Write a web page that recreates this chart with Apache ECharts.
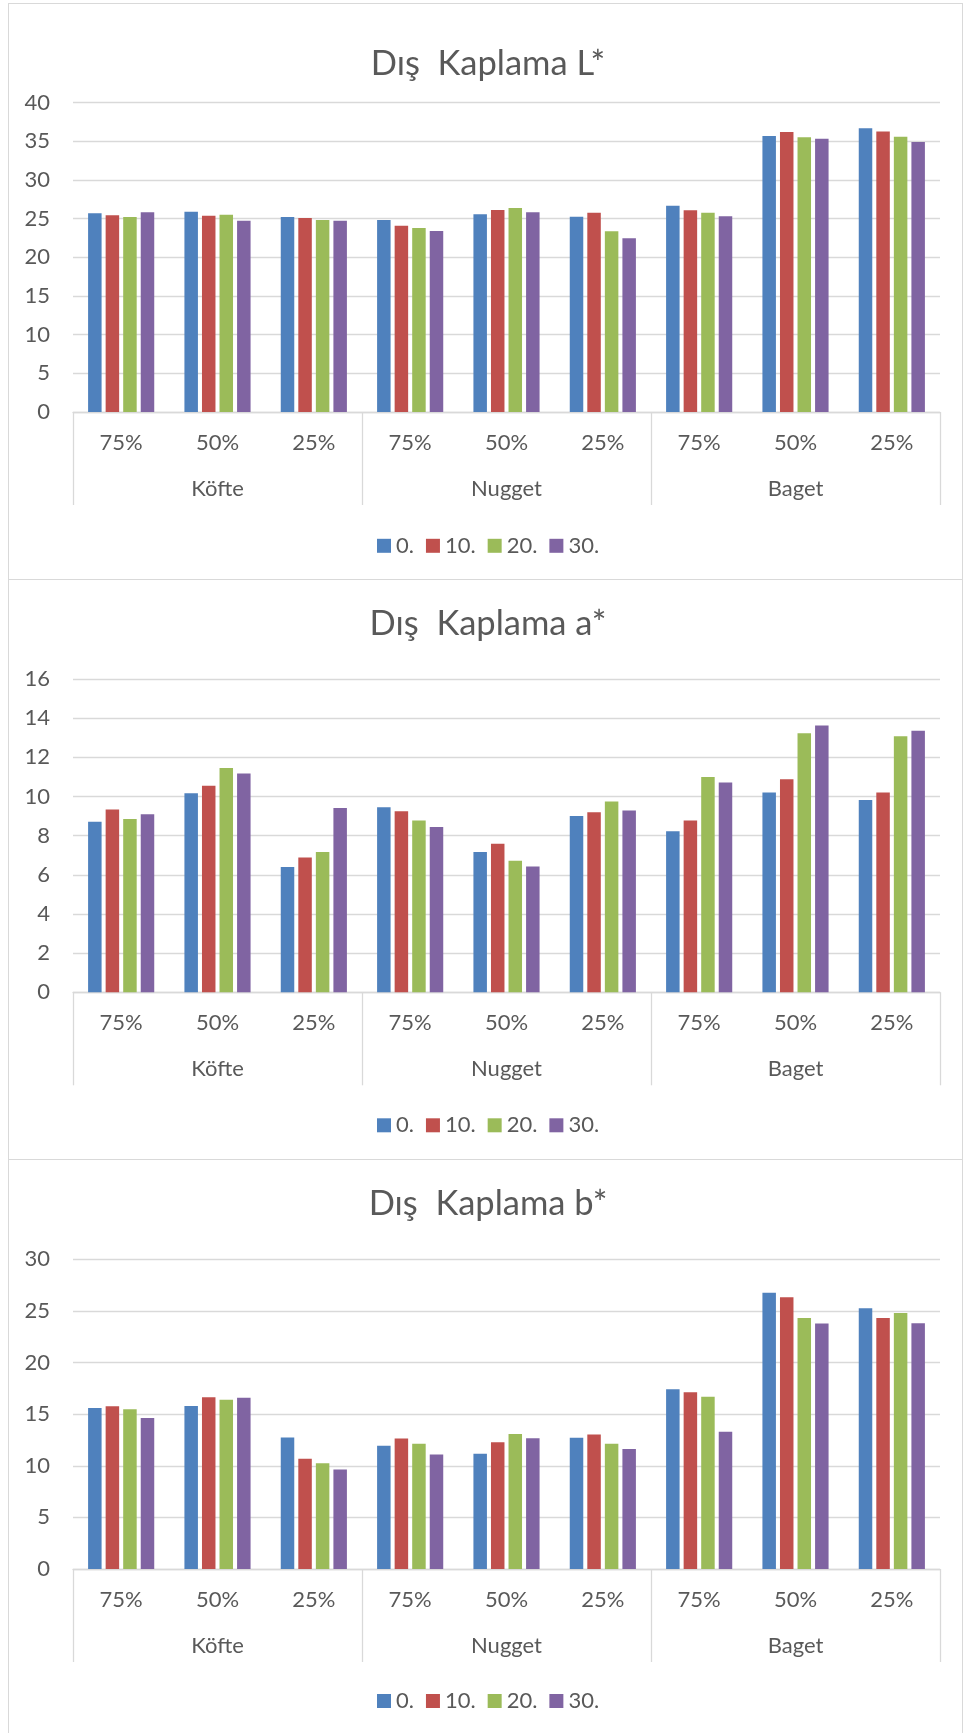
<!DOCTYPE html>
<html>
<head>
<meta charset="utf-8">
<script src="https://cdn.jsdelivr.net/npm/echarts@6/dist/echarts.min.js"></script>
<style>
  html, body { margin: 0; padding: 0; background: #ffffff; }
  #wrap { position: relative; width: 965px; height: 1733px; overflow: hidden; }
  .frame { position: absolute; box-sizing: border-box; border: 1.5px solid #d9d9d9; background: #ffffff; }
  #chart { position: absolute; left: 0; top: 0; width: 965px; height: 1733px; }
</style>
</head>
<body>
<div id="wrap">
  <div class="frame" style="left:8px;top:3px;width:955px;height:578px"></div>
  <div class="frame" style="left:8px;top:579px;width:955px;height:582px"></div>
  <div class="frame" style="left:8px;top:1159px;width:955px;height:600px"></div>
  <div id="chart"></div>
</div>
<script>
// Category labels (inner level) and product groups (outer level)
const categories = ['75%', '50%', '25%', '75%', '50%', '25%', '75%', '50%', '25%'];
const groups = ['Köfte', 'Nugget', 'Baget'];
const seriesNames = ['0.', '10.', '20.', '30.'];
const titles = ['Dış  Kaplama L*', 'Dış  Kaplama a*', 'Dış  Kaplama b*'];

// Dış kaplama L*
const L_0  = [25.69, 25.90, 25.22, 24.83, 25.56, 25.26, 26.68, 35.69, 36.68];
const L_10 = [25.43, 25.39, 25.09, 24.09, 26.12, 25.78, 26.08, 36.21, 36.29];
const L_20 = [25.22, 25.52, 24.83, 23.79, 26.38, 23.36, 25.78, 35.52, 35.60];
const L_30 = [25.82, 24.74, 24.74, 23.41, 25.82, 22.46, 25.30, 35.34, 34.91];

// Dış kaplama a*
const A_0  = [8.71, 10.16, 6.40, 9.45, 7.17, 9.00, 8.22, 10.20, 9.82];
const A_10 = [9.34, 10.55, 6.89, 9.24, 7.59, 9.19, 8.78, 10.88, 10.20];
const A_20 = [8.85, 11.46, 7.17, 8.78, 6.72, 9.75, 11.00, 13.23, 13.07];
const A_30 = [9.09, 11.18, 9.41, 8.44, 6.42, 9.28, 10.71, 13.63, 13.36];

// Dış kaplama b*
const B_0  = [15.60, 15.79, 12.75, 11.95, 11.17, 12.72, 17.40, 26.77, 25.25];
const B_10 = [15.76, 16.63, 10.69, 12.63, 12.27, 13.04, 17.11, 26.32, 24.31];
const B_20 = [15.47, 16.40, 10.24, 12.14, 13.08, 12.14, 16.69, 24.31, 24.80];
const B_30 = [14.63, 16.60, 9.65, 11.08, 12.66, 11.62, 13.30, 23.77, 23.80];

// Value axis ranges
const yMax = [40, 16, 30];
const yStep = [5, 2, 5];

const panelData = [
  [L_0, L_10, L_20, L_30],
  [A_0, A_10, A_20, A_30],
  [B_0, B_10, B_20, B_30]
];

// Styling / layout
const colors = ['#4F81BD', '#C0504D', '#9BBB59', '#8064A2'];
const textColor = '#595959';
const lineColor = '#D9D9D9';
const font = 'Lato';
const layout = [
  { top: 102.7, height: 309.3, titleX: 488, titleY: 64.0, legendY: 541.8 },
  { top: 679.0, height: 313.3, titleX: 488, titleY: 623.8, legendY: 1121.3 },
  { top: 1259.3, height: 309.7, titleX: 488, titleY: 1204.0, legendY: 1697.0 }
];

const grid = [], xAxis = [], yAxis = [], series = [], legend = [], graphic = [];

layout.forEach(function (p, i) {
  grid.push({ left: 73, width: 867, top: p.top, height: p.height, containLabel: false });

  // inner category level
  xAxis.push({
    type: 'category', gridIndex: i, position: 'bottom', data: categories,
    axisLine: { show: true, lineStyle: { color: lineColor, width: 1.3 } },
    axisTick: { show: false },
    axisLabel: { interval: 0, margin: 20, color: textColor, fontFamily: font, fontSize: 22, lineHeight: 22 },
    splitLine: { show: false }
  });
  // outer group level with separators
  xAxis.push({
    type: 'category', gridIndex: i, position: 'bottom', data: groups,
    axisLine: { show: false },
    axisTick: { show: true, length: 93, lineStyle: { color: lineColor, width: 1.3 } },
    axisLabel: { interval: 0, margin: 66, color: textColor, fontFamily: font, fontSize: 22, lineHeight: 22 },
    splitLine: { show: false }
  });

  yAxis.push({
    type: 'value', gridIndex: i, min: 0, max: yMax[i], interval: yStep[i],
    axisLine: { show: false }, axisTick: { show: false },
    axisLabel: { margin: 23, color: textColor, fontFamily: font, fontSize: 22 },
    splitLine: { show: true, lineStyle: { color: lineColor, width: 1.3 } }
  });

  panelData[i].forEach(function (values, s) {
    series.push({
      type: 'bar', name: seriesNames[s], xAxisIndex: i * 2, yAxisIndex: i,
      data: values, barWidth: 13.5, barGap: '30%',
      itemStyle: { color: colors[s] }
    });
  });

  legend.push({
    data: seriesNames, left: 377, top: p.legendY - 7, padding: 0,
    icon: 'rect', itemWidth: 14, itemHeight: 14, itemGap: 12,
    textStyle: { color: textColor, fontFamily: font, fontSize: 22 }
  });

  graphic.push({
    type: 'text', x: p.titleX, y: p.titleY, silent: true,
    style: { text: titles[i], fill: textColor, font: '34.5px Lato', align: 'center', verticalAlign: 'middle' }
  });
});

const chart = echarts.init(document.getElementById('chart'), null, { renderer: 'canvas' });
chart.setOption({
  animation: false,
  backgroundColor: 'transparent',
  color: colors,
  grid: grid,
  xAxis: xAxis,
  yAxis: yAxis,
  legend: legend,
  series: series,
  graphic: graphic
});
</script>
</body>
</html>
